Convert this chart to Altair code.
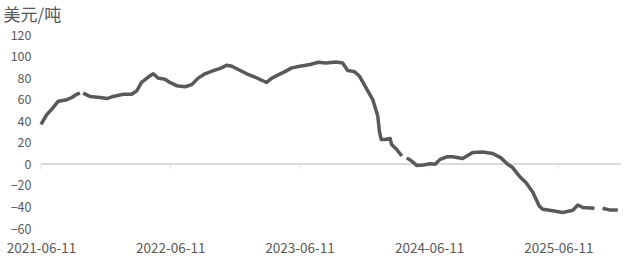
import altair as alt
import pandas as pd

dates = [
    "2021-06-11", "2021-06-27", "2021-07-11", "2021-07-30", "2021-08-23", "2021-09-06",
    "2021-09-20", "2021-09-29", "2021-10-04", "2021-10-08", "2021-10-27", "2021-11-25",
    "2021-12-14", "2022-01-01", "2022-01-29", "2022-02-22", "2022-03-08", "2022-03-22",
    "2022-04-10", "2022-04-24", "2022-05-08", "2022-05-27", "2022-06-10", "2022-06-29",
    "2022-07-23", "2022-08-11", "2022-08-29", "2022-09-17", "2022-10-11", "2022-11-03",
    "2022-11-17", "2022-12-02", "2022-12-20", "2023-01-13", "2023-02-05", "2023-02-24",
    "2023-03-10", "2023-03-25", "2023-04-12", "2023-05-01", "2023-05-20", "2023-06-12",
    "2023-07-11", "2023-08-03", "2023-08-25", "2023-09-22", "2023-10-11", "2023-10-25",
    "2023-11-13", "2023-11-27", "2023-12-16", "2024-01-04", "2024-01-18", "2024-01-23",
    "2024-01-28", "2024-02-08", "2024-02-22", "2024-02-26", "2024-03-11", "2024-03-26",
    "2024-03-31", "2024-04-09", "2024-04-23", "2024-05-07", "2024-05-26", "2024-06-14",
    "2024-06-28", "2024-07-12", "2024-07-31", "2024-08-17", "2024-09-14", "2024-10-12",
    "2024-11-09", "2024-12-08", "2024-12-31", "2025-01-19", "2025-02-02", "2025-02-21",
    "2025-03-12", "2025-03-31", "2025-04-18", "2025-04-28", "2025-05-26", "2025-06-23",
    "2025-07-22", "2025-08-05", "2025-08-19", "2025-09-21", "2025-09-30", "2025-10-14",
    "2025-11-02", "2025-11-26",
]
values = [
    37, 46, 51, 58.6, 60, 62,
    65, 66, None, 66, 63, 62,
    61, 63, 65, 65, 68, 76,
    81, 84, 80, 79, 76, 73,
    72, 74, 80, 84, 87, 89.5,
    92, 91, 88, 84, 81, 78,
    76, 80, 83, 86, 89.5, 91,
    92.6, 94.7, 94, 95, 94, 87,
    86, 82, 71, 60, 45, 30,
    23, 23, 24, 18.5, 14, 7.7,
    None, 6, 3, -1, -0.6, 0.6,
    0, 4.6, 7, 7, 5.5, 11,
    11.5, 10, 6, 0, -3, -11,
    -17, -26, -38.6, -41.7, -43, -44.7,
    -42.6, -37.7, -40, -40.7, None, -40.7,
    -42.3, -42.3,
]
tick_dates = ["2021-06-11", "2022-06-11", "2023-06-11", "2024-06-11", "2025-06-11"]
y_ticks = [120, 100, 80, 60, 40, 20, 0, -20, -40, -60]
x_start, x_end = "2021-06-11", "2025-12-05"

df = pd.DataFrame({"date": pd.to_datetime(dates), "value": values})
ticks_df = pd.DataFrame({"date": pd.to_datetime(tick_dates), "zero": [0] * len(tick_dates)})

FONT = "Noto Sans CJK SC"
LABEL = "#595959"

x_scale = alt.Scale(domain=[pd.Timestamp(x_start).isoformat(), pd.Timestamp(x_end).isoformat()])
y_scale = alt.Scale(domain=[-60, 120], nice=False)

x_axis = alt.Axis(
    values=[pd.Timestamp(d).isoformat() for d in tick_dates],
    format="%Y-%m-%d", labelFontSize=13.5, labelColor=LABEL, labelFont=FONT,
    domain=False, ticks=False, grid=False, title=None, labelPadding=12,
    labelFlush=False, labelOverlap=False,
)
y_axis = alt.Axis(
    values=y_ticks, labelFontSize=12.5, labelColor=LABEL, labelFont=FONT,
    domain=False, ticks=False, grid=False, labelPadding=10, labelOverlap=False,
    title="美元/吨", titleAngle=0, titleX=-38, titleY=-20, titleAlign="left",
    titleBaseline="middle", titleFontSize=17, titleFontWeight="normal",
    titleColor=LABEL, titleFont=FONT,
)

zero_line = alt.Chart(df).mark_rule(color="#d9d9d9", strokeWidth=1).encode(
    y=alt.datum(0, scale=y_scale, axis=y_axis)
)
tick_marks = alt.Chart(ticks_df).mark_tick(
    color="#d9d9d9", orient="vertical", size=5, yOffset=2.5, thickness=1
).encode(
    x=alt.X("date:T", scale=x_scale, axis=x_axis),
    y=alt.Y("zero:Q", scale=y_scale, axis=y_axis),
)
line = alt.Chart(df).mark_line(color="#595959", strokeWidth=3.5, strokeJoin="round").encode(
    x=alt.X("date:T", scale=x_scale, axis=x_axis),
    y=alt.Y("value:Q", scale=y_scale, axis=y_axis),
)

chart = alt.layer(zero_line, tick_marks, line).properties(
    width=580, height=194,
    autosize=alt.AutoSizeParams(type="none"),
    padding={"left": 41, "top": 35, "right": 15, "bottom": 41},
).configure(background="white").configure_view(stroke=None, strokeWidth=0)

chart.save("out.html", embed_options={"renderer": "svg", "actions": False})
